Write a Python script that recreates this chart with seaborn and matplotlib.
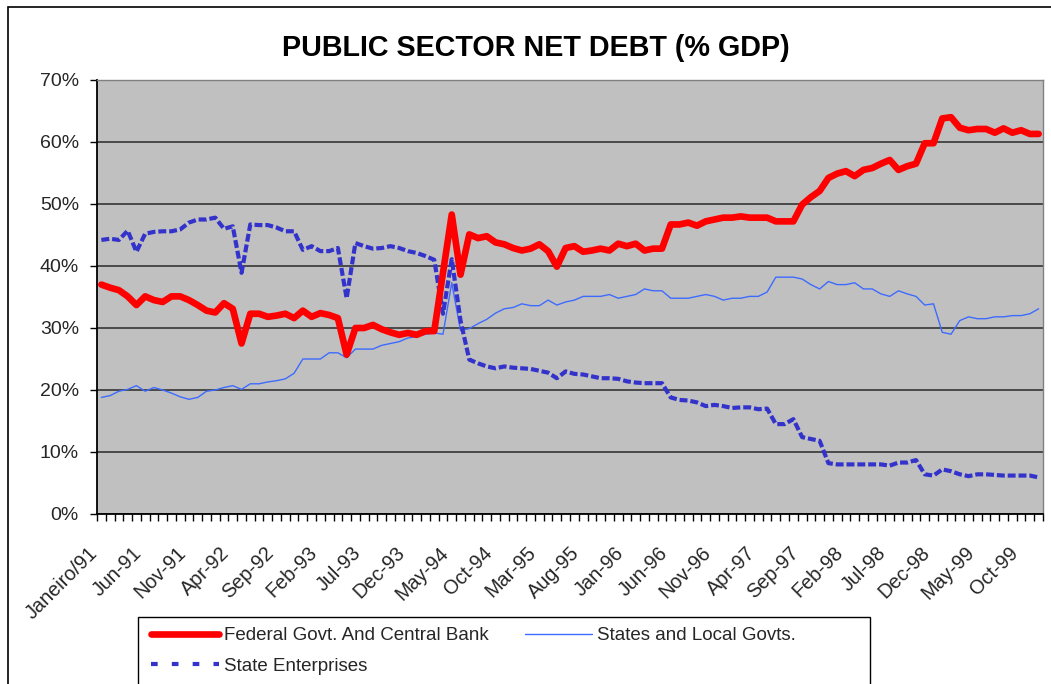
import matplotlib

matplotlib.use('Agg')
import matplotlib.pyplot as plt
import numpy as np
import pandas as pd
import seaborn as sns
from matplotlib.patches import Rectangle
from matplotlib.ticker import FuncFormatter
from matplotlib.transforms import ScaledTranslation

sns.set_theme(style='white')
plt.rcParams['font.family'] = ['Liberation Sans', 'DejaVu Sans']

# Monthly data, Jan 1991 - Dec 1999 (% of GDP)
tick_labels = [
    'Janeiro/91', 'Jun-91', 'Nov-91', 'Apr-92', 'Sep-92', 'Feb-93', 'Jul-93', 'Dec-93',
    'May-94', 'Oct-94', 'Mar-95', 'Aug-95', 'Jan-96', 'Jun-96', 'Nov-96', 'Apr-97',
    'Sep-97', 'Feb-98', 'Jul-98', 'Dec-98', 'May-99', 'Oct-99',
]
federal = [
    37.0, 36.5, 36.1, 35.1, 33.7, 35.1, 34.5, 34.2, 35.1, 35.1,
    34.5, 33.7, 32.8, 32.5, 34.0, 33.1, 27.5, 32.3, 32.3, 31.8,
    32.0, 32.3, 31.6, 32.8, 31.8, 32.4, 32.1, 31.6, 25.7, 30.0,
    30.0, 30.5, 29.8, 29.3, 28.9, 29.2, 28.9, 29.5, 29.5, 38.9,
    48.3, 38.6, 45.1, 44.5, 44.8, 43.8, 43.5, 42.9, 42.5, 42.8,
    43.5, 42.4, 39.9, 42.9, 43.2, 42.3, 42.5, 42.8, 42.5, 43.6,
    43.2, 43.6, 42.5, 42.8, 42.8, 46.7, 46.7, 47.0, 46.5, 47.2,
    47.5, 47.8, 47.8, 48.0, 47.8, 47.8, 47.8, 47.2, 47.2, 47.2,
    49.9, 51.1, 52.1, 54.2, 54.9, 55.3, 54.5, 55.5, 55.8, 56.5,
    57.1, 55.5, 56.1, 56.5, 59.8, 59.8, 63.8, 64.0, 62.3, 61.9,
    62.1, 62.1, 61.5, 62.2, 61.5, 61.9, 61.3, 61.3,
]
states = [
    18.8, 19.1, 19.8, 20.1, 20.7, 19.8, 20.4, 20.0, 19.5, 18.9,
    18.5, 18.8, 19.8, 20.0, 20.4, 20.7, 20.1, 21.0, 21.0, 21.3,
    21.5, 21.8, 22.7, 25.0, 25.0, 25.0, 26.0, 26.0, 25.2, 26.6,
    26.6, 26.6, 27.2, 27.5, 27.8, 28.4, 28.6, 29.0, 29.2, 29.0,
    37.3, 29.6, 29.9, 30.7, 31.4, 32.4, 33.1, 33.3, 33.9, 33.6,
    33.6, 34.5, 33.7, 34.2, 34.5, 35.1, 35.1, 35.1, 35.4, 34.8,
    35.1, 35.4, 36.3, 36.0, 36.0, 34.8, 34.8, 34.8, 35.1, 35.4,
    35.1, 34.5, 34.8, 34.8, 35.1, 35.1, 35.8, 38.2, 38.2, 38.2,
    37.9, 37.0, 36.3, 37.5, 37.0, 37.0, 37.3, 36.3, 36.3, 35.5,
    35.1, 36.0, 35.5, 35.1, 33.7, 33.9, 29.3, 29.0, 31.2, 31.8,
    31.5, 31.5, 31.8, 31.8, 32.0, 32.0, 32.3, 33.1,
]
enterprises = [
    44.2, 44.4, 44.2, 45.7, 42.3, 45.2, 45.5, 45.6, 45.6, 45.9,
    47.0, 47.5, 47.5, 47.8, 46.0, 46.4, 38.9, 46.7, 46.6, 46.6,
    46.2, 45.6, 45.6, 42.6, 43.2, 42.4, 42.4, 42.9, 34.8, 43.7,
    43.2, 42.8, 42.9, 43.2, 42.9, 42.4, 42.1, 41.6, 41.0, 32.3,
    41.1, 31.2, 24.9, 24.3, 23.8, 23.5, 23.8, 23.6, 23.5, 23.4,
    23.1, 22.8, 21.9, 23.0, 22.6, 22.5, 22.2, 21.9, 21.9, 21.8,
    21.4, 21.2, 21.1, 21.1, 21.1, 18.8, 18.4, 18.3, 18.0, 17.4,
    17.6, 17.4, 17.1, 17.2, 17.2, 16.9, 17.0, 14.5, 14.5, 15.3,
    12.4, 12.1, 11.8, 8.2, 8.0, 8.0, 8.0, 8.0, 8.0, 8.0,
    7.8, 8.3, 8.3, 8.7, 6.4, 6.2, 7.2, 6.9, 6.4, 6.1,
    6.4, 6.4, 6.3, 6.2, 6.2, 6.2, 6.2, 5.9,
]

W, H = 1051, 684


def main() -> None:
    n = len(federal)
    data = pd.DataFrame({
        'month': np.arange(n),
        'federal': federal,
        'states': states,
        'enterprises': enterprises,
    })
    fig = plt.figure(figsize=(W / 100, H / 100), dpi=100)
    fig.patch.set_facecolor('white')
    ax = fig.add_axes([97 / W, 1 - 514 / H, (1043 - 97) / W, (514 - 80) / H])
    ax.set_facecolor('#C0C0C0')

    # Plots the series
    sns.lineplot(data=data, x='month', y='states', ax=ax, color='#3D6BFF', lw=1.0,
                 label='States and Local Govts.')
    sns.lineplot(data=data, x='month', y='enterprises', ax=ax, color='#3333CC', lw=3.0,
                 linestyle=(0, (1.9, 0.7)), label='State Enterprises')
    sns.lineplot(data=data, x='month', y='federal', ax=ax, color='#FF0000', lw=4.8,
                 label='Federal Govt. And Central Bank')

    # Axes styling
    ax.set_xlim(-0.5, n - 0.5)
    ax.set_ylim(0, 70)
    ax.set_xlabel('')
    ax.set_ylabel('')
    ax.set_yticks(np.arange(0, 71, 10))
    ax.yaxis.set_major_formatter(FuncFormatter(lambda v, _: f'{v:.0f}%'))
    ax.grid(axis='y', color='#404040', lw=1.3)
    ax.grid(axis='x', visible=False)
    ax.set_axisbelow(True)
    for side in ('left', 'bottom'):
        ax.spines[side].set_color('black')
        ax.spines[side].set_linewidth(1.3)
    for side in ('top', 'right'):
        ax.spines[side].set_color('#808080')
        ax.spines[side].set_linewidth(1.0)

    ax.set_xticks(np.arange(0, n, 5))
    ax.set_xticklabels(tick_labels, rotation=45, ha='right', va='top',
                       rotation_mode='anchor', fontsize=14.3)
    ax.set_xticks(np.arange(-0.5, n, 1), minor=True)
    ax.tick_params(axis='x', which='major', bottom=True, length=0, pad=21)
    ax.tick_params(axis='x', which='minor', bottom=True, length=5, width=1,
                   color='black', direction='out')
    ax.tick_params(axis='y', left=True, length=5, width=1, color='black',
                   direction='out', pad=8, labelsize=14)
    shift = ScaledTranslation(-0.13, 0, fig.dpi_scale_trans)
    for label in ax.get_xticklabels():
        label.set_transform(label.get_transform() + shift)

    # Title
    fig.text(536 / W, 1 - 48 / H, 'PUBLIC SECTOR NET DEBT (% GDP)', ha='center', va='center',
             fontsize=20.7, fontweight='bold', color='black')

    # Legend
    handles, labels = ax.get_legend_handles_labels()
    ax.get_legend().remove()
    lookup = dict(zip(labels, handles))
    order = ['Federal Govt. And Central Bank', 'State Enterprises', 'States and Local Govts.']
    leg = fig.legend([lookup[k] for k in order], order, ncol=2, loc='upper left',
                     bbox_to_anchor=(151 / W, 1 - 627 / H), frameon=False, fontsize=13.5,
                     handlelength=3.6, handletextpad=0.27, columnspacing=1.95,
                     labelspacing=0.72, borderpad=0, borderaxespad=0)
    leg.get_lines()[1].set_linestyle((0, (1.6, 3.4)))
    fig.add_artist(Rectangle((138 / W, -0.05), (870 - 138) / W, (1 - 617 / H) + 0.05,
                             transform=fig.transFigure, fill=False, edgecolor='black', lw=1))
    # Chart area border
    fig.add_artist(Rectangle((8 / W, -0.05), 1.1, (1 - 7 / H) + 0.05,
                             transform=fig.transFigure, fill=False, edgecolor='black', lw=1.2))

    fig.savefig('out.png', dpi=100)


if __name__ == '__main__':
    main()
